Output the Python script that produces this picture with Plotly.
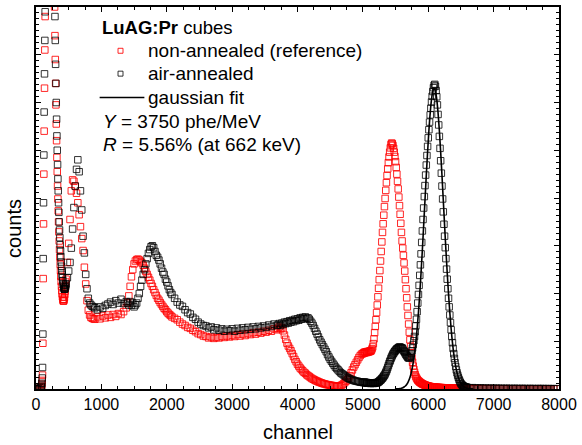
import plotly.graph_objects as go

def seg(start, stop, step):
    return list(range(start, stop + 1, step))

# channel grid (x categories), finer where the spectrum is steep
ch_A = [0, 20, 40, 60]
ch_B = seg(80, 455, 5)
ch_C = seg(460, 880, 20)
ch_D = seg(900, 1380, 40)
ch_E = seg(1400, 2080, 20)
ch_F = seg(2120, 3680, 40)
ch_G = seg(3700, 4980, 20)
ch_H = seg(5000, 6590, 10)
ch_I = seg(6600, 7960, 40)

# air-annealed counts (black)
air_A = [0, 0, 10, 30]
air_B = [40, 60, 120, 230, 450, 1150, 2730, 3900, 4900, 5800, 6600, 7300, 7900, 8600,
         9800, 11000, 12500, 14000, 15500, 17000, 18000, 19000, 19500, 20000, 20000, 19500, 19000, 18000,
         17000, 16000, 15000, 14000, 13000, 12200, 11500, 10800, 10200, 9800, 9400, 9000, 8700,
         8300, 7800, 7300, 6800, 6400, 6000, 5650, 5300, 5000, 4700, 4400, 4150, 3900, 3700, 3500,
         3330, 3170, 3020, 2890, 2770, 2660, 2570, 2480, 2400, 2330, 2270, 2210, 2170, 2130, 2100,
         2090, 2090, 2110, 2140, 2170]
air_C = [2200, 2330, 2470, 2650, 2950, 3350, 3800, 4250, 4600, 4800, 4550, 4150, 3750, 3200,
         2850, 2400, 2100, 1900, 1800, 1760, 1730, 1720]
air_D = [1700, 1660, 1720, 1690, 1750, 1780, 1820, 1770, 1850, 1800, 1880, 1790, 1830]
air_E = [1800, 1760, 1830, 1750, 1800, 1720, 1760, 1800, 1900, 2000, 2150, 2280, 2400, 2500,
         2620, 2730, 2840, 2920, 2980, 3000, 2960, 2880, 2800, 2760, 2700, 2620, 2530, 2450,
         2400, 2300, 2240, 2160, 2080, 2020, 1980]
air_F = [1900, 1820, 1760, 1730, 1660, 1600, 1570, 1500, 1460, 1400,
         1360, 1330, 1320, 1280, 1300, 1240, 1280, 1230, 1260, 1210,
         1250, 1220, 1260, 1210, 1270, 1230, 1280, 1240, 1290, 1250,
         1300, 1260, 1310, 1280, 1320, 1290, 1340, 1310, 1360, 1330]
air_G = [1340, 1370, 1330, 1380, 1350, 1400, 1370, 1410, 1380, 1430,
         1400, 1440, 1410, 1460, 1430, 1470, 1440, 1490, 1460, 1500,
         1470, 1510, 1480, 1490, 1460, 1420, 1380, 1330, 1270, 1210,
         1150, 1090, 1030, 980, 930, 880, 830, 780, 720, 670,
         620, 580, 540, 500, 460, 430, 400, 370, 340, 320,
         300, 280, 260, 240, 225, 210, 200, 190, 180, 170,
         165, 160, 150, 145, 140]
air_H = [140, 135, 150, 130, 140, 125, 135, 120, 130, 125, 120, 130, 115, 125, 120,
         130, 115, 125, 120, 130, 125, 135, 130, 140, 150, 160, 175, 185, 200, 215,
         230, 250, 270, 290, 315, 345, 375, 410, 450, 490, 530, 570, 600, 640, 670,
         700, 730, 750, 775, 790, 810, 825, 840, 850, 860, 870, 880, 875, 870, 860,
         860, 840, 810, 790, 770, 740, 720, 700, 680, 660, 650, 650, 660, 690, 740, 800,
         860, 930, 1010, 1100, 1200, 1320, 1460, 1620,
         1800, 1980, 2170, 2380, 2600, 2830, 3070, 3310, 3550, 3790,
         4030, 4260, 4480, 4690, 4890, 5080, 5260, 5430, 5590, 5740,
         5880, 6010, 6130, 6230, 6310, 6360, 6380,
         6340, 6250, 6120, 5950, 5750, 5530, 5290, 5040, 4780, 4520,
         4250, 3980, 3710, 3450, 3200, 2960, 2730, 2510, 2300, 2100,
         1900, 1720, 1550, 1390, 1240, 1100, 970, 850, 740, 640,
         550, 470, 400, 340, 290, 245, 205, 170, 140, 115,
         95, 80, 68, 58, 50, 45, 40, 38, 35]
air_I = [30, 25, 28, 22, 20, 24, 18, 20, 16, 19, 15, 18, 14, 16, 12, 15, 13, 11, 14, 12,
         10, 13, 11, 9, 12, 10, 8, 11, 9, 10, 8, 9, 7, 8, 6]

# non-annealed (reference) counts (red)
ref_A = [0, 0, 5, 20]
ref_B = [30, 60, 100, 180, 291, 958, 2312, 3458, 4500, 5400, 6300, 7100, 7800, 8500,
         9600, 10800, 12200, 13800, 15200, 16600, 17600, 18500, 19000, 19400, 19400, 19000, 18400, 17500,
         16500, 15500, 14500, 13500, 12600, 11800, 11100, 10400, 9800, 9300, 8900, 8600, 8300,
         8000, 7400, 6900, 6400, 5950, 5550, 5200, 4850, 4550, 4250, 3980, 3730, 3500, 3290, 3100,
         2920, 2760, 2610, 2480, 2360, 2250, 2150, 2060, 1990, 1930, 1880, 1850, 1840, 1850, 1880,
         1920, 1980, 2050, 2140, 2240]
ref_C = [2300, 2650, 3050, 3550, 4150, 4380, 4350, 4250, 4100, 3900, 3650, 3400, 3150, 2900,
         2550, 2200, 1850, 1650, 1550, 1500, 1480, 1470]
ref_D = [1460, 1510, 1470, 1530, 1490, 1550, 1500, 1560, 1520, 1580, 1560, 1620, 1700]
ref_E = [1800, 1950, 2150, 2350, 2500, 2620, 2680, 2710, 2720, 2700, 2670, 2640, 2590, 2530,
         2460, 2400, 2340, 2280, 2210, 2150, 2080, 2020, 1960, 1900, 1860, 1810, 1770, 1730,
         1690, 1660, 1620, 1590, 1560, 1540, 1510]
ref_F = [1480, 1450, 1400, 1360, 1330, 1290, 1270, 1230, 1200, 1160,
         1140, 1110, 1100, 1070, 1090, 1060, 1080, 1070, 1100, 1080,
         1110, 1090, 1120, 1100, 1140, 1110, 1150, 1120, 1160, 1140,
         1180, 1150, 1190, 1170, 1210, 1190, 1230, 1210, 1260, 1240]
ref_G = [1270, 1300, 1260, 1280, 1220, 1130, 1040, 960, 900, 850,
         800, 740, 680, 620, 570, 520, 480, 440, 410, 380,
         350, 330, 300, 280, 260, 240, 220, 205, 190, 175,
         165, 150, 140, 130, 120, 110, 105, 95, 90, 85,
         80, 75, 70, 65, 60, 55, 55, 60, 70, 85,
         105, 130, 160, 190, 230, 280, 340, 400, 460, 510,
         560, 610, 660, 700, 730]
ref_H = [740, 760, 750, 775, 760, 780, 765, 785, 770, 790, 780, 800, 790, 810,
         840, 880, 950, 1050, 1180, 1310, 1450, 1600, 1760, 1930,
         2110, 2290, 2480, 2680, 2880, 3080, 3280, 3460, 3640, 3820,
         3990, 4160, 4320, 4470, 4610, 4740, 4860, 4960, 5050, 5120,
         5150, 5140, 5100, 5040, 4960, 4870, 4760, 4640, 4500, 4350,
         4190, 4020, 3840, 3660, 3470, 3280, 3100, 2950, 2800, 2640,
         2470, 2290, 2100, 1910, 1720, 1540, 1360, 1190, 1030, 890,
         760, 650, 560, 480, 410, 350, 300, 260, 230, 205,
         185, 170, 155, 145, 135, 125, 115, 108, 100, 95,
         88, 82, 78, 72, 68, 64, 60, 57, 54, 51,
         48, 46, 44, 42, 40, 38, 37,
         36, 35, 34, 33, 32, 31, 30, 30, 29, 28,
         28, 27, 26, 26, 25, 25, 24, 24, 23, 23,
         22, 22, 21, 21, 20, 20, 20, 19, 19, 18,
         18, 18, 17, 17, 17, 16, 16, 16, 15, 15,
         15, 14, 14, 14, 13, 13, 12, 12, 10]
ref_I = [10, 9, 9, 8, 8, 7, 7, 7, 6, 6, 6, 5, 5, 5, 5, 4, 4, 4, 4, 4,
         3, 3, 3, 3, 3, 3, 2, 2, 2, 2, 2, 2, 2, 2, 2]

# gaussian fit of the air-annealed photopeak
fit_channel = seg(5490, 6690, 20)
fit_counts = [1, 2, 4, 6, 10, 17, 26, 41, 63, 95,
              140, 203, 289, 403, 552, 741, 977, 1263, 1601, 1993,
              2434, 2916, 3427, 3953, 4473, 4967, 5410, 5783, 6065, 6240,
              6300,
              6240, 6065, 5783, 5410, 4967, 4473, 3953, 3427, 2916, 2434,
              1993, 1601, 1263, 977, 741, 552, 403, 289, 203, 140,
              95, 63, 41, 26, 17, 10, 6, 4, 2, 1]

x_ticks = [0, 1000, 2000, 3000, 4000, 5000, 6000, 7000, 8000]

ch_segs = [ch_A, ch_B, ch_C, ch_D, ch_E, ch_F, ch_G, ch_H, ch_I]
air_segs = [air_A, air_B, air_C, air_D, air_E, air_F, air_G, air_H, air_I]
ref_segs = [ref_A, ref_B, ref_C, ref_D, ref_E, ref_F, ref_G, ref_H, ref_I]

channel, air_counts, ref_counts = [], [], []
for name, c, a, r in zip("ABCDEFGHI", ch_segs, air_segs, ref_segs):
    if not (len(c) == len(a) == len(r)):
        raise ValueError(f"segment {name}: ch {len(c)} air {len(a)} ref {len(r)}")
    channel += c
    air_counts += a
    ref_counts += r
assert len(fit_channel) == len(fit_counts), (len(fit_channel), len(fit_counts))

FONT = "Liberation Sans, Arial, Helvetica, sans-serif"
RED = "rgba(255,0,0,0.85)"
BLK = "rgba(0,0,0,0.8)"

fig = go.Figure()
fig.add_trace(go.Scatter(
    x=channel, y=ref_counts, mode="markers", name="non-annealed (reference)",
    marker=dict(symbol="square-open", size=6.5, color=RED, line=dict(width=1, color=RED)),
))
fig.add_trace(go.Scatter(
    x=channel, y=air_counts, mode="markers", name="air-annealed",
    marker=dict(symbol="square-open", size=6.5, color=BLK, line=dict(width=1, color=BLK)),
))
fig.add_trace(go.Scatter(
    x=fit_channel, y=fit_counts, mode="lines", name="gaussian fit",
    line=dict(color="black", width=1.6, shape="spline"),
))

# plot area in pixels: x 36..562, y 5..389
L, R, T, B = 36, 562, 5, 389
W, H = R - L, B - T

def px(x):
    return (x - L) / W

def py(y):
    return (B - y) / H

annotations = []
def text(x, y, s, size=19, xanchor="left", angle=0):
    annotations.append(dict(
        x=px(x), y=py(y), xref="paper", yref="paper", text=s, showarrow=False,
        xanchor=xanchor, yanchor="middle", textangle=angle,
        font=dict(family=FONT, size=size, color="black"),
    ))

text(100, 26, "<b>LuAG:Pr</b> cubes", size=18.5)
text(147, 49, "non-annealed (reference)")
text(147, 72, "air-annealed")
text(147, 96, "gaussian fit")
text(101, 120, "<i>Y</i> = 3750 phe/MeV")
text(101, 143, "<i>R</i> = 5.56% (at 662 keV)")
text(299, 432, "channel", size=20, xanchor="center")
text(14, 228, "counts", size=20, xanchor="center", angle=-90)

shapes = []
for (yy, col) in [(49, RED), (72, BLK)]:
    shapes.append(dict(type="rect", xref="paper", yref="paper",
                       x0=px(118.5), x1=px(123.5), y0=py(yy + 2.5), y1=py(yy - 2.5),
                       line=dict(color=col, width=1)))
shapes.append(dict(type="line", xref="paper", yref="paper",
                   x0=px(100), x1=px(145), y0=py(96), y1=py(96),
                   line=dict(color="black", width=1.6)))

axis_common = dict(
    showline=True, linecolor="black", linewidth=1.5, mirror="ticks",
    ticks="inside", ticklen=5, tickwidth=1, tickcolor="black",
    showgrid=False, zeroline=False,
)

fig.update_layout(
    width=582, height=445,
    margin=dict(l=L, r=582 - R, t=T, b=445 - B),
    paper_bgcolor="white", plot_bgcolor="white",
    showlegend=False,
    font=dict(family=FONT, size=16, color="black"),
    xaxis=dict(range=[0, 8000], tickvals=x_ticks, ticktext=[str(v) for v in x_ticks],
               tickfont=dict(size=16),
               minor=dict(dtick=250, ticklen=3, ticks="inside", tickcolor="black"),
               **axis_common),
    yaxis=dict(range=[0, 8000], dtick=1000, showticklabels=False,
               minor=dict(dtick=125, ticklen=3, ticks="inside", tickcolor="black"),
               **axis_common),
    annotations=annotations,
    shapes=shapes,
)

fig.write_html("out.html",
               config={"displayModeBar": False},
               post_script="document.body.style.margin='0px';document.body.style.overflow='hidden';")
